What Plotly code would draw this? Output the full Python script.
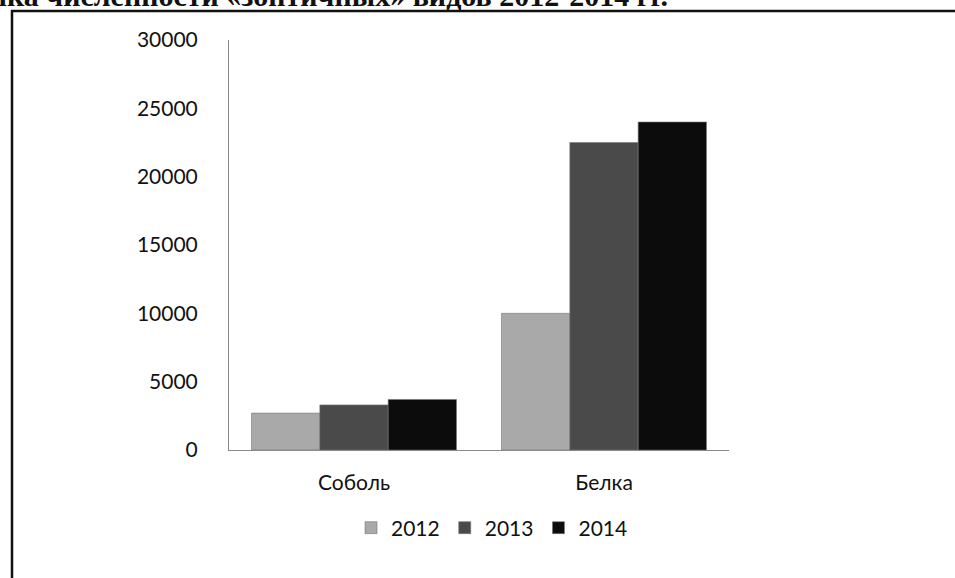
import plotly.graph_objects as go

categories = ["Соболь", "Белка"]
years = ["2012", "2013", "2014"]
values_2012 = [2700, 10000]
values_2013 = [3300, 22500]
values_2014 = [3700, 24000]
series = [values_2012, values_2013, values_2014]
colors = ["#a9a9a9", "#4a4a4a", "#0c0c0c"]
yticks = [0, 5000, 10000, 15000, 20000, 25000, 30000]
title_text = "Динамика численности «зонтичных» видов 2012-2014 гг."

W, H = 955, 578
L, R, T, B = 229, 729, 40, 450

def px_x(px):
    return (px - L) / (R - L)

def px_y(py):
    return (B - py) / (B - T)

fig = go.Figure()
for name, vals, col in zip(years, series, colors):
    fig.add_trace(go.Bar(
        x=categories, y=vals, name=name,
        marker=dict(color=col, line=dict(color="#777777", width=0.6)),
    ))

fig.update_layout(
    width=W, height=H,
    margin=dict(l=L, r=W - R, t=T, b=H - B),
    paper_bgcolor="white", plot_bgcolor="white",
    barmode="group", bargap=0.18, bargroupgap=0,
    font=dict(family="Lato", size=21, color="#111111"),
    showlegend=True,
    legend=dict(orientation="h", x=px_x(492), xanchor="center",
                y=px_y(528), yanchor="middle", font=dict(size=21),
                itemwidth=30, tracegroupgap=0),
    xaxis=dict(showline=True, linecolor="#8a8a8a", linewidth=1,
               ticks="", showgrid=False, ticklabelstandoff=14,
               tickfont=dict(size=21)),
    yaxis=dict(range=[0, 30000], tickvals=yticks, tickformat="d",
               showgrid=False,
               showline=True, linecolor="#8a8a8a", linewidth=1,
               ticks="", zeroline=False, ticklabelstandoff=26),
)

# outer frame
fig.add_shape(type="rect", xref="paper", yref="paper",
              x0=px_x(12), x1=px_x(975), y0=px_y(600), y1=px_y(11),
              line=dict(color="#111111", width=2.5), fillcolor="rgba(0,0,0,0)",
              layer="above")

# title text, cut off at the top edge as in the reference
fig.add_annotation(text="<b>" + title_text + "</b>", xref="paper", yref="paper",
                   x=px_x(670), xanchor="right", y=px_y(-4), yanchor="middle",
                   showarrow=False,
                   font=dict(family="Liberation Serif", size=30, color="#111111"))

fig.write_html("out.html", config={"displayModeBar": False},
               post_script="document.body.style.margin='0';document.body.style.overflow='hidden';")
